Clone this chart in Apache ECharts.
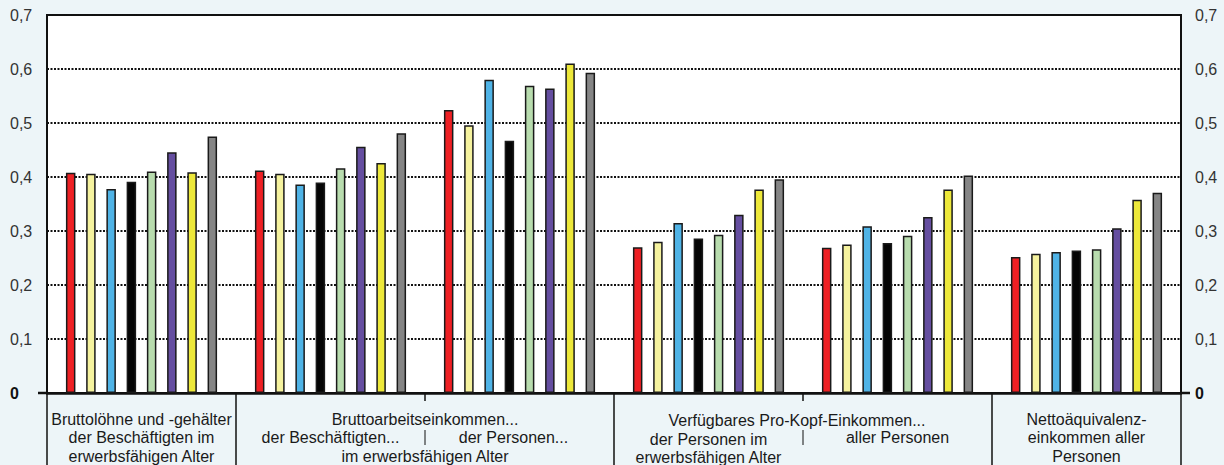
<!DOCTYPE html>
<html>
<head>
<meta charset="utf-8">
<script src="https://cdn.jsdelivr.net/npm/echarts@6/dist/echarts.min.js"></script>
<style>
html,body{margin:0;padding:0;background:#EDF5F8;}
#chart{width:1224px;height:465px;}
</style>
</head>
<body>
<div id="chart"></div>
<script>
// ---- data ----
const categories = [
  'Bruttolöhne und -gehälter der Beschäftigten im erwerbsfähigen Alter',
  'Bruttoarbeitseinkommen der Beschäftigten im erwerbsfähigen Alter',
  'Bruttoarbeitseinkommen der Personen im erwerbsfähigen Alter',
  'Verfügbares Pro-Kopf-Einkommen der Personen im erwerbsfähigen Alter',
  'Verfügbares Pro-Kopf-Einkommen aller Personen',
  'Nettoäquivalenzeinkommen aller Personen'
];
const seriesNames = ['Reihe 1','Reihe 2','Reihe 3','Reihe 4','Reihe 5','Reihe 6','Reihe 7','Reihe 8'];
const redValues    = [0.408, 0.412, 0.524, 0.270, 0.269, 0.252];
const creamValues  = [0.406, 0.406, 0.496, 0.280, 0.275, 0.258];
const blueValues   = [0.378, 0.386, 0.580, 0.315, 0.309, 0.261];
const blackValues  = [0.391, 0.390, 0.467, 0.286, 0.278, 0.264];
const greenValues  = [0.410, 0.416, 0.569, 0.293, 0.291, 0.266];
const purpleValues = [0.446, 0.456, 0.564, 0.330, 0.326, 0.305];
const yellowValues = [0.409, 0.426, 0.610, 0.377, 0.377, 0.358];
const grayValues   = [0.475, 0.481, 0.593, 0.396, 0.403, 0.371];
const yTicks = [0, 0.1, 0.2, 0.3, 0.4, 0.5, 0.6, 0.7];

// category label texts
const label1Lines = ['Bruttolöhne und -gehälter', 'der Beschäftigten im', 'erwerbsfähigen Alter'];
const label23Title = 'Bruttoarbeitseinkommen...';
const label2Sub = 'der Beschäftigten...';
const label3Sub = 'der Personen...';
const label23Footer = 'im erwerbsfähigen Alter';
const label45Title = 'Verfügbares Pro-Kopf-Einkommen...';
const label4Lines = ['der Personen im', 'erwerbsfähigen Alter'];
const label5Sub = 'aller Personen';
const label6Lines = ['Nettoäquivalenz-', 'einkommen aller', 'Personen'];

// ---- styling ----
const colors = ['#EE2024', '#F5F29E', '#4FB3E6', '#050505', '#B8DCAE', '#654EA0', '#EDE83A', '#858585'];
const allValues = [redValues, creamValues, blueValues, blackValues, greenValues, purpleValues, yellowValues, grayValues];
const FONT = '"Liberation Sans", Arial, Helvetica, sans-serif';

const chart = echarts.init(document.getElementById('chart'), null, {renderer: 'svg'});

function fmt(v) {
  if (Math.abs(v) < 1e-9) return '{b|0}';
  return v.toFixed(1).replace('.', ',');
}

const yAxisBase = {
  type: 'value', min: 0, max: 0.7, interval: 0.1,
  axisLine: {show: false}, axisTick: {show: false},
  splitLine: {show: false},
  axisLabel: {
    formatter: fmt, color: '#333', fontSize: 16, fontFamily: FONT,
    rich: {b: {fontWeight: 'bold', fontSize: 16, color: '#111', fontFamily: FONT}}
  }
};

const option = {
  backgroundColor: '#EDF5F8',
  animation: false,
  grid: {left: 47, right: 43, top: 15, bottom: 72, show: true, backgroundColor: '#ffffff', borderColor: '#111', borderWidth: 2},
  xAxis: {
    type: 'category', data: categories,
    axisLine: {show: true, lineStyle: {color: '#111', width: 2.5}},
    axisTick: {show: false}, axisLabel: {show: false}
  },
  yAxis: [
    Object.assign({}, yAxisBase, {
      position: 'left',
      splitLine: {show: true, lineStyle: {color: '#111', width: 2, type: [2, 1.5]}},
      axisLabel: Object.assign({}, yAxisBase.axisLabel, {align: 'left', margin: 37})
    }),
    Object.assign({}, yAxisBase, {
      position: 'right',
      axisLabel: Object.assign({}, yAxisBase.axisLabel, {align: 'left', margin: 14})
    })
  ],
  series: allValues.map((vals, i) => ({
    name: seriesNames[i], type: 'bar', data: vals,
    barWidth: 9.5, barGap: '113%',
    itemStyle: {color: colors[i], borderColor: '#1a1a1a', borderWidth: 1.5}
  }))
};
chart.setOption(option);

// ---- category area decorations, from the axis scale ----
function cx(i) { return chart.convertToPixel({xAxisIndex: 0}, i); }
const step = cx(1) - cx(0);
function boundary(i) { return cx(0) - step / 2 + i * step; } // left edge of category i
const y0 = chart.convertToPixel({yAxisIndex: 0}, 0);
const H = 465;

const g = [];
function vline(x, ya, yb, w) {
  g.push({type: 'line', shape: {x1: x, y1: ya, x2: x, y2: yb}, style: {stroke: '#111', lineWidth: w}, z: 100});
}
function hline(xa, xb, y, w) {
  g.push({type: 'line', shape: {x1: xa, y1: y, x2: xb, y2: y}, style: {stroke: '#111', lineWidth: w}, z: 100});
}
function txt(x, y, s) {
  g.push({type: 'text', x: x, y: y, style: {text: s, fill: '#1a1a1a', font: '16px ' + FONT, align: 'center', verticalAlign: 'middle'}, z: 100});
}
// full separators
[0, 1, 3, 5, 6].forEach(i => vline(boundary(i), y0, H, 1.5));
// short ticks below axis
[2, 4].forEach(i => vline(boundary(i), y0, y0 + 8, 1.5));
// zero ticks outside the plot
hline(boundary(0) - 9, boundary(0), y0, 2.5);
hline(boundary(6), boundary(6) + 9, y0, 2.5);
// inner dividers between sub labels
vline(boundary(2), y0 + 37, y0 + 52, 1);
vline(boundary(4), y0 + 37, y0 + 52, 1);

const L1 = y0 + 26, L2 = y0 + 44.5, L3 = y0 + 63;
label1Lines.forEach((s, k) => txt(cx(0), [L1, L2, L3][k], s));
txt(boundary(2), L1, label23Title);
txt(cx(1), L2, label2Sub);
txt(cx(2) - 6, L2, label3Sub);
txt(boundary(2), L3, label23Footer);
txt(boundary(4) - 6, L1 + 1, label45Title);
label4Lines.forEach((s, k) => txt(cx(3), [L2 + 1.5, L3 + 1][k], s));
txt(cx(4), L2, label5Sub);
label6Lines.forEach((s, k) => txt(cx(5), [L1, L2, L3][k], s));

chart.setOption({graphic: {elements: g}});
</script>
</body>
</html>
